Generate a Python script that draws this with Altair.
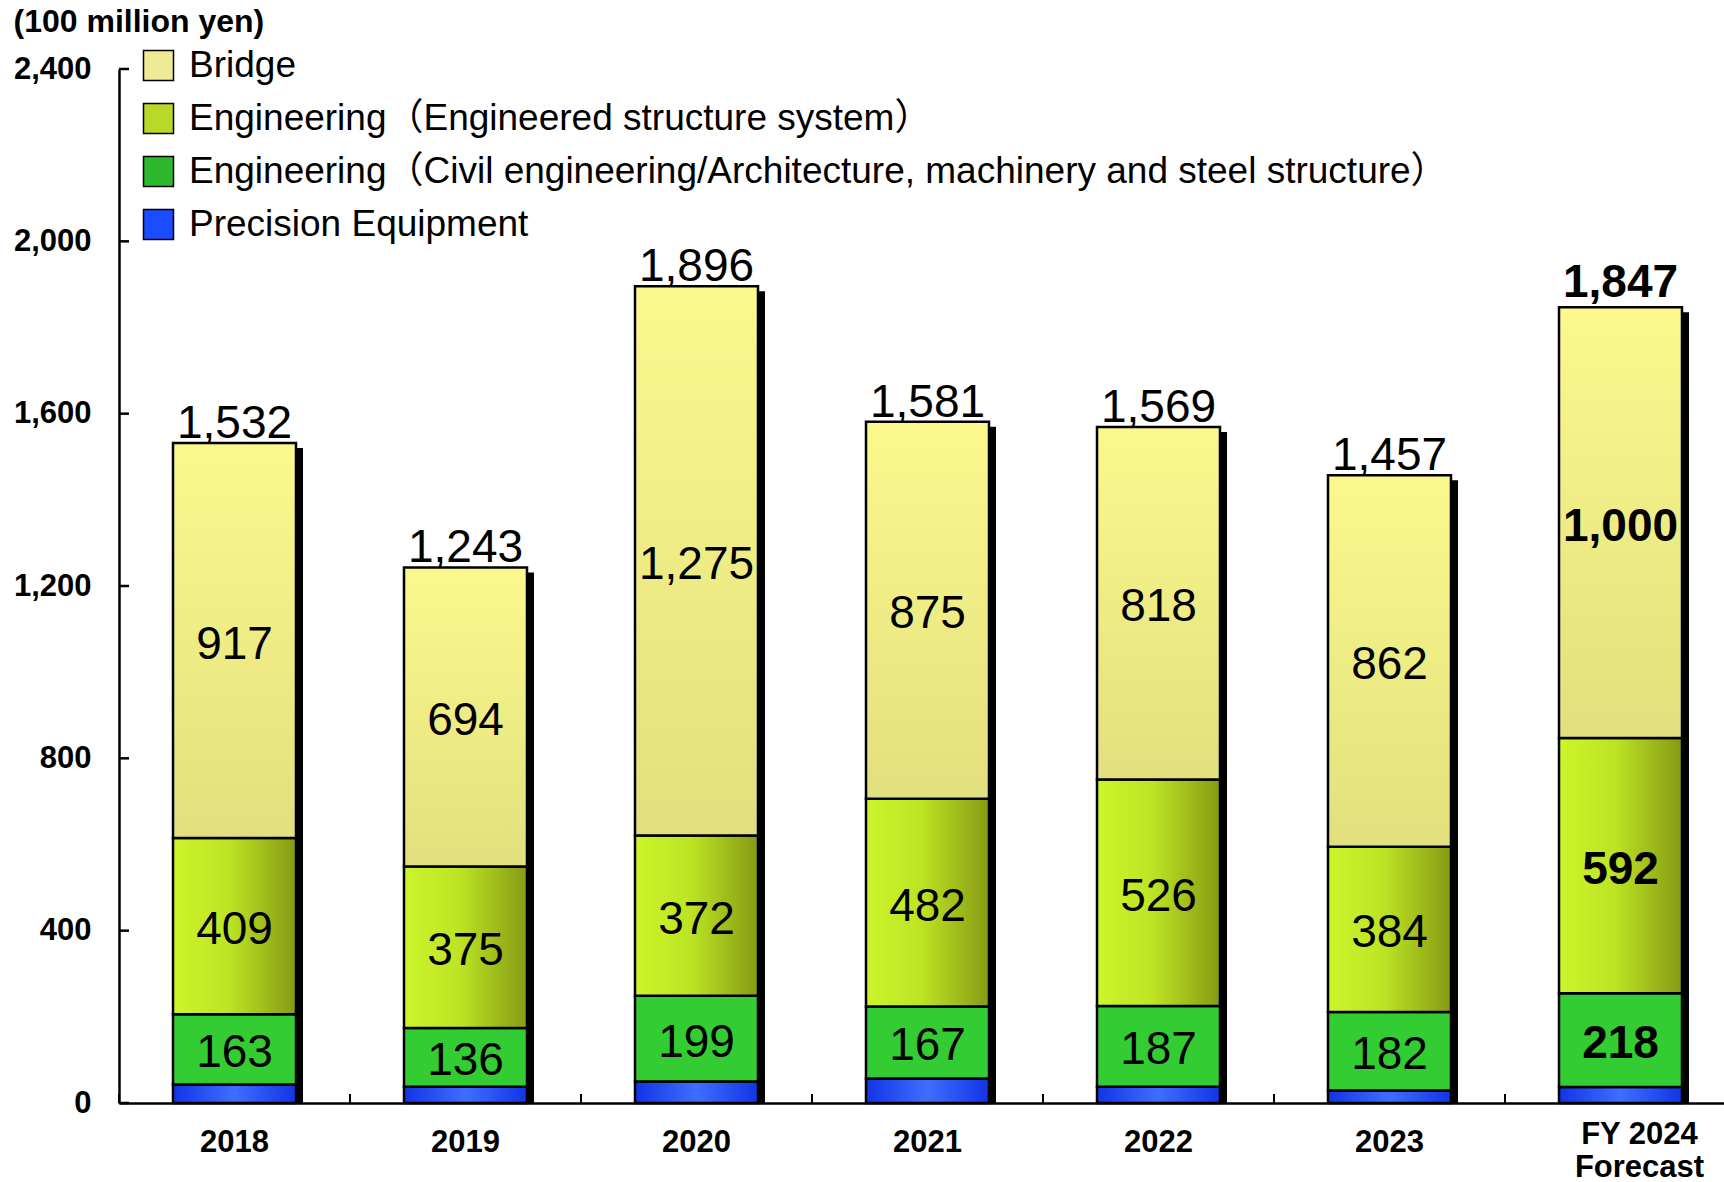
import altair as alt
import pandas as pd

# Orders received by segment (100 million yen)
years = ["2018", "2019", "2020", "2021", "2022", "2023", "FY 2024 Forecast"]
bridge = [917, 694, 1275, 875, 818, 862, 1000]
eng_structure = [409, 375, 372, 482, 526, 384, 592]
eng_civil = [163, 136, 199, 167, 187, 182, 218]
precision = [43, 38, 50, 57, 38, 29, 37]
totals = [1532, 1243, 1896, 1581, 1569, 1457, 1847]
y_ticks = [0, 400, 800, 1200, 1600, 2000, 2400]

series_names = [
    "Bridge",
    "Engineering（Engineered structure system）",
    "Engineering（Civil engineering/Architecture, machinery and steel structure）",
    "Precision Equipment",
]
legend_colors = ["#EEEA96", "#B9D928", "#2DB82D", "#1A4DFF"]

FORECAST = "FY 2024 Forecast"
W, H = 1605, 1034
X_RANGE = 1617          # the category axis runs slightly past the right edge
BAR_W = 123
FONT = "Liberation Sans, Arial, Noto Sans CJK JP"

# stack bottom -> top
stack = [
    ("precision", precision),
    ("civil", eng_civil),
    ("structure", eng_structure),
    ("bridge", bridge),
]
rows = []
for i, yr in enumerate(years):
    base = 0
    for key, vals in stack:
        v = vals[i]
        rows.append({"year": yr, "series": key, "value": v,
                     "start": base, "end": base + v, "mid": base + v / 2,
                     "forecast": yr == FORECAST})
        base += v
seg = pd.DataFrame(rows)
tot = pd.DataFrame({"year": years, "total": totals,
                    "forecast": [y == FORECAST for y in years]})

x_scale = alt.Scale(domain=years, paddingInner=0, paddingOuter=0, range=[0, X_RANGE])
y_scale = alt.Scale(domain=[0, 2400], nice=False)

is_fc = "datum.value == 'FY 2024 Forecast'"
x_enc = alt.X("year:N", scale=x_scale, sort=years, title=None,
              axis=alt.Axis(labelFontSize=31, labelFontWeight="bold", labelFont=FONT,
                            labelColor="black", labelAngle=0, ticks=False,
                            labelPadding={"condition": {"test": is_fc, "value": 31}, "value": 39},
                            labelOffset={"condition": {"test": is_fc, "value": 19}, "value": 0},
                            labelBaseline="middle", labelLineHeight=33,
                            domainColor="black", domainWidth=2.5,
                            labelExpr="datum.label == 'FY 2024 Forecast' ? ['FY 2024', 'Forecast'] : datum.label"))

grad_bridge = alt.Gradient(gradient="linear", x1=0, x2=0, y1=0, y2=1,
                           stops=[alt.GradientStop(offset=0, color="#FBF88D"),
                                  alt.GradientStop(offset=1, color="#E2E07E")])
grad_structure = alt.Gradient(gradient="linear", x1=0, x2=1, y1=0, y2=0,
                              stops=[alt.GradientStop(offset=0, color="#CDF52B"),
                                     alt.GradientStop(offset=0.45, color="#BDE424"),
                                     alt.GradientStop(offset=1, color="#879A14")])
grad_precision = alt.Gradient(gradient="linear", x1=0, x2=1, y1=0, y2=0,
                              stops=[alt.GradientStop(offset=0, color="#1234E6"),
                                     alt.GradientStop(offset=0.5, color="#3E6EFF"),
                                     alt.GradientStop(offset=1, color="#1234E6")])
fills = {"precision": grad_precision, "civil": "#33CC33",
         "structure": grad_structure, "bridge": grad_bridge}

# drop shadow behind each column
shadow = alt.Chart(tot).mark_bar(color="black", width=BAR_W, xOffset=7, yOffset=5).encode(
    x=x_enc,
    y=alt.Y("total:Q", scale=y_scale, title="(100 million yen)",
            axis=alt.Axis(values=y_ticks, format=",d", labelFontSize=31, labelFontWeight="bold",
                          labelFont=FONT, labelColor="black", ticks=False, labelPadding=28,
                          grid=False, domainColor="black", domainWidth=2.5,
                          titleAngle=0, titleAlign="left", titleBaseline="middle",
                          titleX=-106, titleY=-48, titleFontSize=32, titleFontWeight="bold",
                          titleFont=FONT, titleColor="black")),
    y2=alt.datum(0),
)

bars = []
for key, _ in stack:
    bars.append(
        alt.Chart(seg).transform_filter(alt.datum.series == key)
        .mark_bar(fill=fills[key], stroke="black", strokeWidth=2.5, width=BAR_W)
        .encode(x=x_enc, y=alt.Y("end:Q", scale=y_scale), y2="start:Q")
    )

labelled = seg[seg.series != "precision"]
seg_text_base = alt.Chart(labelled).encode(
    x=x_enc, y=alt.Y("mid:Q", scale=y_scale), text=alt.Text("value:Q", format=",d"))
seg_text = seg_text_base.transform_filter("!datum.forecast").mark_text(
    fontSize=46, font=FONT, color="black", baseline="middle", dy=4)
seg_text_bold = seg_text_base.transform_filter("datum.forecast").mark_text(
    fontSize=46, font=FONT, fontWeight="bold", color="black", baseline="middle", dy=4)

tot_base = alt.Chart(tot).encode(
    x=x_enc, y=alt.Y("total:Q", scale=y_scale), text=alt.Text("total:Q", format=",d"))
tot_text = tot_base.transform_filter("!datum.forecast").mark_text(
    fontSize=46, font=FONT, color="black", baseline="alphabetic", dy=-5)
tot_text_bold = tot_base.transform_filter("datum.forecast").mark_text(
    fontSize=46, font=FONT, fontWeight="bold", color="black", baseline="alphabetic", dy=-10)

# inward tick marks on both axes
ytick_df = pd.DataFrame({"v": y_ticks})
y_tick_marks = alt.Chart(ytick_df).mark_rule(color="black", strokeWidth=2.5).encode(
    y=alt.Y("v:Q", scale=y_scale), x=alt.value(0), x2=alt.value(10))
x_tick_marks = alt.Chart(tot).mark_rule(color="black", strokeWidth=2).encode(
    x=alt.X("year:N", scale=x_scale, sort=years, bandPosition=0),
    y=alt.value(H), y2=alt.value(H - 9))

# legend
leg_df = pd.DataFrame({"series": series_names})
legend_layer = alt.Chart(leg_df).mark_square(size=0, opacity=0).encode(
    x=alt.value(0), y=alt.value(0),
    color=alt.Color("series:N", sort=series_names,
                    scale=alt.Scale(domain=series_names, range=legend_colors),
                    legend=alt.Legend(title=None, orient="none", legendX=21, legendY=-22,
                                      direction="vertical", symbolType="square",
                                      symbolSize=900, symbolOpacity=1,
                                      symbolStrokeColor="black", symbolStrokeWidth=1.5,
                                      labelFontSize=37, labelFont=FONT, labelColor="black",
                                      labelLimit=3000, labelOffset=12, rowPadding=15)))

chart = alt.layer(
    shadow, *bars, seg_text, seg_text_bold, tot_text, tot_text_bold,
    y_tick_marks, x_tick_marks, legend_layer,
).properties(
    width=W, height=H,
    autosize=alt.AutoSizeParams(type="none"),
    padding={"left": 119, "top": 69, "right": 0, "bottom": 79},
    background="white",
).configure_view(stroke=None)

chart.save("out.html", embed_options={"renderer": "svg", "actions": False})
